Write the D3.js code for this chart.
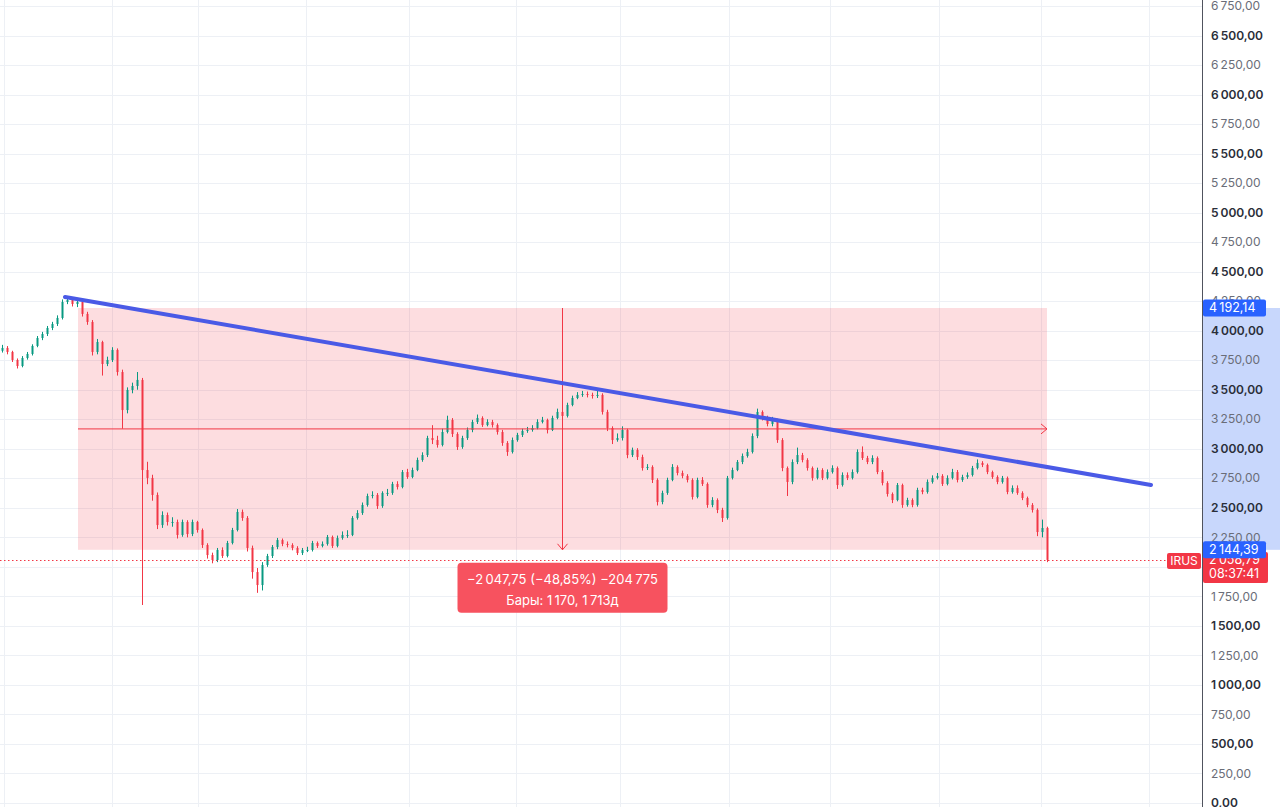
<!DOCTYPE html>
<html>
<head>
<meta charset="utf-8">
<script src="https://cdn.jsdelivr.net/npm/d3@7"></script>
<style>
html, body { margin: 0; padding: 0; background: #fff; overflow: hidden; }
svg { display: block; font-family: Inter, "Noto Sans", sans-serif; }
</style>
</head>
<body>
<svg id="chart" width="1280" height="807"></svg>
<script>

// weekly-ish candles, open = previous close
var firstOpen = 3830;

var closes = [
    3854, 3820, 3752, 3701, 3769, 3803, 3871, 3938, 3972, 4023,
    4057, 4108, 4243, 4260, 4226, 4243, 4142, 4074, 3820, 3904,
    3718, 3752, 3837, 3650, 3328, 3498, 3532, 3583, 2820, 2753,
    2609, 2354, 2439, 2380, 2380, 2270, 2380, 2278, 2380, 2312,
    2185, 2100, 2058, 2143, 2092, 2202, 2312, 2465, 2414, 2160,
    1956, 1846, 2016, 2092, 2168, 2227, 2194, 2185, 2160, 2117,
    2143, 2143, 2202, 2177, 2194, 2253, 2177, 2244, 2270, 2270,
    2414, 2456, 2524, 2600, 2609, 2515, 2626, 2626, 2702, 2676,
    2803, 2761, 2820, 2905, 2947, 3091, 3074, 3032, 3142, 3244,
    3125, 3015, 3091, 3159, 3227, 3261, 3201, 3227, 3201, 3142,
    3049, 2973, 3074, 3117, 3151, 3159, 3176, 3227, 3244, 3159,
    3261, 3312, 3278, 3371, 3430, 3456, 3464, 3456, 3447, 3456,
    3312, 3176, 3074, 3091, 3159, 2947, 2990, 2930, 2837, 2846,
    2736, 2549, 2626, 2736, 2846, 2795, 2770, 2736, 2592, 2736,
    2702, 2524, 2566, 2482, 2414, 2753, 2820, 2888, 2939, 2973,
    3108, 3312, 3261, 3210, 3244, 3074, 2837, 2719, 2888, 2947,
    2905, 2837, 2753, 2820, 2753, 2803, 2837, 2693, 2778, 2753,
    2803, 2973, 2922, 2888, 2922, 2803, 2710, 2617, 2566, 2693,
    2524, 2566, 2524, 2651, 2634, 2719, 2753, 2770, 2702, 2753,
    2803, 2736, 2761, 2778, 2837, 2880, 2863, 2803, 2761, 2719,
    2753, 2634, 2668, 2626, 2583, 2524, 2482, 2295, 2329, 2059
];

var highs = [
    3880, 3870, 3830, 3765, 3785, 3820, 3885, 3955, 3990, 4040,
    4075, 4130, 4265, 4290, 4280, 4265, 4255, 4160, 4090, 3930,
    3915, 3780, 3860, 3850, 3670, 3520, 3560, 3650, 3600, 2890,
    2780, 2630, 2470, 2460, 2420, 2400, 2400, 2395, 2400, 2390,
    2325, 2200, 2120, 2160, 2165, 2220, 2330, 2490, 2485, 2430,
    2180, 1990, 2040, 2110, 2185, 2245, 2240, 2215, 2200, 2175,
    2160, 2170, 2220, 2215, 2215, 2270, 2265, 2265, 2300, 2310,
    2430, 2480, 2545, 2620, 2640, 2625, 2640, 2660, 2720, 2725,
    2820, 2830, 2840, 2925, 2970, 3110, 3200, 3110, 3170, 3280,
    3260, 3140, 3110, 3180, 3245, 3290, 3275, 3250, 3245, 3215,
    3160, 3065, 3095, 3135, 3170, 3185, 3200, 3250, 3270, 3255,
    3280, 3340, 3330, 3390, 3450, 3480, 3490, 3485, 3475, 3495,
    3470, 3330, 3190, 3130, 3190, 3170, 3010, 3005, 2950, 2870,
    2860, 2750, 2645, 2755, 2870, 2860, 2815, 2785, 2750, 2755,
    2760, 2715, 2590, 2580, 2500, 2770, 2840, 2905, 2960, 3000,
    3130, 3340, 3325, 3280, 3270, 3255, 3090, 2850, 2910, 3010,
    2965, 2920, 2850, 2840, 2835, 2825, 2860, 2850, 2800, 2800,
    2825, 2995, 3020, 2940, 2945, 2935, 2820, 2725, 2630, 2710,
    2705, 2585, 2580, 2670, 2670, 2740, 2775, 2795, 2785, 2775,
    2830, 2820, 2780, 2800, 2855, 2910, 2895, 2875, 2815, 2775,
    2770, 2765, 2690, 2690, 2640, 2595, 2540, 2495, 2400, 2340
];

var lows = [
    3815, 3800, 3735, 3680, 3690, 3755, 3790, 3860, 3920, 3955,
    4005, 4040, 4095, 4225, 4205, 4200, 4120, 4050, 3790, 3800,
    3620, 3700, 3735, 3620, 3170, 3300, 3470, 3500, 1677, 2700,
    2560, 2320, 2330, 2350, 2340, 2240, 2255, 2250, 2260, 2290,
    2160, 2070, 2030, 2040, 2075, 2080, 2190, 2300, 2390, 2130,
    1900, 1780, 1800, 2000, 2075, 2150, 2175, 2165, 2140, 2100,
    2100, 2125, 2130, 2160, 2165, 2180, 2160, 2165, 2230, 2245,
    2260, 2400, 2440, 2510, 2580, 2490, 2500, 2600, 2610, 2655,
    2665, 2745, 2750, 2810, 2890, 2930, 3040, 3010, 3020, 3130,
    3100, 2990, 3000, 3075, 3140, 3210, 3185, 3190, 3180, 3120,
    3025, 2940, 2960, 3060, 3100, 3135, 3145, 3165, 3215, 3130,
    3150, 3250, 3260, 3265, 3360, 3420, 3440, 3435, 3425, 3430,
    3290, 3150, 3040, 3060, 3070, 2920, 2930, 2905, 2815, 2820,
    2710, 2520, 2530, 2610, 2725, 2775, 2750, 2715, 2570, 2580,
    2685, 2500, 2505, 2455, 2380, 2400, 2740, 2810, 2870, 2925,
    2960, 3090, 3240, 3190, 3190, 3050, 2810, 2600, 2700, 2870,
    2885, 2815, 2730, 2740, 2735, 2740, 2790, 2660, 2680, 2735,
    2740, 2790, 2905, 2870, 2870, 2785, 2690, 2595, 2540, 2555,
    2500, 2510, 2505, 2510, 2615, 2620, 2705, 2740, 2685, 2690,
    2740, 2715, 2720, 2745, 2765, 2825, 2845, 2785, 2745, 2700,
    2705, 2615, 2620, 2610, 2565, 2505, 2460, 2260, 2250, 2040
];

var priceTicks = [0, 250, 500, 750, 1000, 1250, 1500, 1750, 2000, 2250, 2500, 2750,
    3000, 3250, 3500, 3750, 4000, 4250, 4500, 4750, 5000, 5250, 5500, 5750,
    6000, 6250, 6500, 6750];

// time grid positions, in bar units
var timeGrid = [0.4, 22, 39.2, 60.8, 81.4, 102.8, 123.6, 145.4, 165.6, 187.4, 207.8, 229.4];

// trend line end points (bar, price)
var trendLine = [[12.6, 4286], [229.8, 2693]];

// measure tool
var measureBars = [15.2, 209];
var measurePrices = [4192.14, 2144.39];
var measureBarCount = 1170;
var measureDays = 1713;

var symbol = "IRUS";
var lastPrice = 2058.79;
var countdown = "08:37:41";

var W = 1280, H = 807, axisX = 1202;
var upColor = "#089981", downColor = "#f23645";

var ru = d3.formatLocale({ decimal: ",", thousands: "\u2009", grouping: [3], currency: ["", ""] });
var fmtPrice = ru.format(",.2f"),
    fmtInt = ru.format(",d");

var x = d3.scaleLinear()
        .domain([0, closes.length - 1])
        .range([2, 1047]);

var y = d3.scaleLinear()
        .domain([0, 6750])
        .range([803, 6]);

var candles = closes.map(function (c, i) {
    return { i: i, o: i ? closes[i - 1] : firstOpen, c: c, h: highs[i], l: lows[i] };
});

var svg = d3.select("#chart");

// grid
svg.append("g")
    .selectAll("line")
    .data(priceTicks)
    .enter().append("line")
    .attr("x1", 0).attr("x2", axisX)
    .attr("y1", function (d) { return Math.round(y(d)) + 0.5; })
    .attr("y2", function (d) { return Math.round(y(d)) + 0.5; })
    .attr("stroke", "#edf0f5");

svg.append("g")
    .selectAll("line")
    .data(timeGrid)
    .enter().append("line")
    .attr("x1", function (d) { return Math.round(x(d)) + 0.5; })
    .attr("x2", function (d) { return Math.round(x(d)) + 0.5; })
    .attr("y1", 0).attr("y2", H)
    .attr("stroke", "#edf0f5");

// measure area
var mx0 = x(measureBars[0]), mx1 = x(measureBars[1]),
    my0 = y(measurePrices[0]), my1 = y(measurePrices[1]),
    mxMid = (mx0 + mx1) / 2,
    myMid = y((measurePrices[0] + measurePrices[1]) / 2);

svg.append("rect")
    .attr("x", mx0).attr("y", my0)
    .attr("width", mx1 - mx0).attr("height", my1 - my0)
    .attr("fill", "rgba(242, 54, 69, 0.17)");

// candles
var cg = svg.append("g");

cg.selectAll("line")
    .data(candles)
    .enter().append("line")
    .attr("x1", function (d) { return Math.round(x(d.i)) + 0.5; })
    .attr("x2", function (d) { return Math.round(x(d.i)) + 0.5; })
    .attr("y1", function (d) { return y(d.h); })
    .attr("y2", function (d) { return y(d.l); })
    .attr("stroke", function (d) { return d.c >= d.o ? upColor : downColor; });

cg.selectAll("rect")
    .data(candles)
    .enter().append("rect")
    .attr("x", function (d) { return Math.round(x(d.i)) - 0.5; })
    .attr("width", 2)
    .attr("y", function (d) { return y(Math.max(d.o, d.c)); })
    .attr("height", function (d) { return Math.max(1, Math.abs(y(d.o) - y(d.c))); })
    .attr("fill", function (d) { return d.c >= d.o ? upColor : downColor; });

// measure lines with arrows
var mg = svg.append("g")
        .attr("stroke", "#f23645")
        .attr("fill", "none");

mg.append("line")
    .attr("x1", mxMid).attr("x2", mxMid)
    .attr("y1", my0).attr("y2", my1);
mg.append("path")
    .attr("d", "M" + (mxMid - 5) + "," + (my1 - 6) + "L" + mxMid + "," + my1 + "L" + (mxMid + 5) + "," + (my1 - 6));

mg.append("line")
    .attr("x1", mx0).attr("x2", mx1)
    .attr("y1", myMid).attr("y2", myMid);
mg.append("path")
    .attr("d", "M" + (mx1 - 6) + "," + (myMid - 5) + "L" + mx1 + "," + myMid + "L" + (mx1 - 6) + "," + (myMid + 5));

// trend line
svg.append("line")
    .attr("x1", x(trendLine[0][0])).attr("y1", y(trendLine[0][1]))
    .attr("x2", x(trendLine[1][0])).attr("y2", y(trendLine[1][1]))
    .attr("stroke", "#4a5ae6")
    .attr("stroke-width", 4)
    .attr("stroke-linecap", "round");

// last price dotted line
svg.append("line")
    .attr("x1", 0).attr("x2", 1166)
    .attr("y1", Math.round(y(lastPrice)) + 0.5)
    .attr("y2", Math.round(y(lastPrice)) + 0.5)
    .attr("stroke", "#f23645")
    .attr("stroke-dasharray", "1.5,2.5");

// measure label
var change = measurePrices[1] - measurePrices[0],
    pct = change / measurePrices[0] * 100;

var lab = svg.append("g")
        .attr("transform", "translate(" + mxMid + "," + (my1 + 13) + ")");

lab.append("rect")
    .attr("x", -105).attr("width", 210)
    .attr("height", 50).attr("rx", 4)
    .attr("fill", "#f7525f");

lab.append("text")
    .attr("y", 17).attr("dy", "0.35em")
    .attr("text-anchor", "middle")
    .attr("fill", "#fff").attr("font-size", 13)
    .text(fmtPrice(change) + " (" + ru.format(".2f")(pct) + "%) " + fmtInt(Math.round(change * 100)));

lab.append("text")
    .attr("y", 38).attr("dy", "0.35em")
    .attr("text-anchor", "middle")
    .attr("fill", "#fff").attr("font-size", 13)
    .text("Бары: " + fmtInt(measureBarCount) + ", " + fmtInt(measureDays) + "д");

// price axis
var ax = svg.append("g");

ax.append("rect")
    .attr("x", axisX).attr("y", 0)
    .attr("width", W - axisX).attr("height", H)
    .attr("fill", "#fff");

ax.append("rect")
    .attr("x", axisX + 1).attr("y", my0)
    .attr("width", W - axisX - 1).attr("height", my1 - my0)
    .attr("fill", "#c8d7fc");

ax.append("line")
    .attr("x1", axisX + 0.5).attr("x2", axisX + 0.5)
    .attr("y1", 0).attr("y2", H)
    .attr("stroke", "#50535e");

ax.selectAll("text.tick")
    .data(priceTicks)
    .enter().append("text")
    .attr("class", "tick")
    .attr("x", axisX + 9)
    .attr("y", function (d) { return y(d); })
    .attr("dy", "0.35em")
    .attr("font-size", 12)
    .attr("font-weight", function (d) { return d % 500 === 0 ? 600 : 400; })
    .attr("fill", function (d) { return d % 500 === 0 ? "#2a2e39" : "#6a6d78"; })
    .text(function (d) { return fmtPrice(d); });

// last price tag (red), under the blue ones
var ly = y(lastPrice);
ax.append("rect")
    .attr("x", axisX + 1).attr("y", ly - 8)
    .attr("width", 65).attr("height", 31).attr("rx", 2)
    .attr("fill", "#f23645");
ax.append("text")
    .attr("x", axisX + 7).attr("y", ly).attr("dy", "0.35em")
    .attr("font-size", 12.5).attr("fill", "#fff")
    .text(fmtPrice(lastPrice));
ax.append("text")
    .attr("x", axisX + 7).attr("y", ly + 14).attr("dy", "0.35em")
    .attr("font-size", 12.5).attr("fill", "#fff")
    .text(countdown);

// symbol tag
svg.append("rect")
    .attr("x", 1167).attr("y", ly - 7)
    .attr("width", 34).attr("height", 16).attr("rx", 2)
    .attr("fill", "#f23645");
svg.append("text")
    .attr("x", 1184).attr("y", ly + 1).attr("dy", "0.35em")
    .attr("text-anchor", "middle")
    .attr("font-size", 12).attr("fill", "#fff")
    .text(symbol);

// measure price tags (blue)
ax.selectAll("g.mtag")
    .data(measurePrices)
    .enter().append("g")
    .attr("class", "mtag")
    .attr("transform", function (d) { return "translate(" + (axisX + 1) + "," + y(d) + ")"; })
    .each(function (d) {
        var g = d3.select(this);
        g.append("rect")
            .attr("y", -8.5).attr("width", 63).attr("height", 17).attr("rx", 2)
            .attr("fill", "#2962ff");
        g.append("text")
            .attr("x", 6).attr("dy", "0.35em")
            .attr("font-size", 12.5).attr("fill", "#fff")
            .text(fmtPrice(d));
    });

</script>
</body>
</html>
